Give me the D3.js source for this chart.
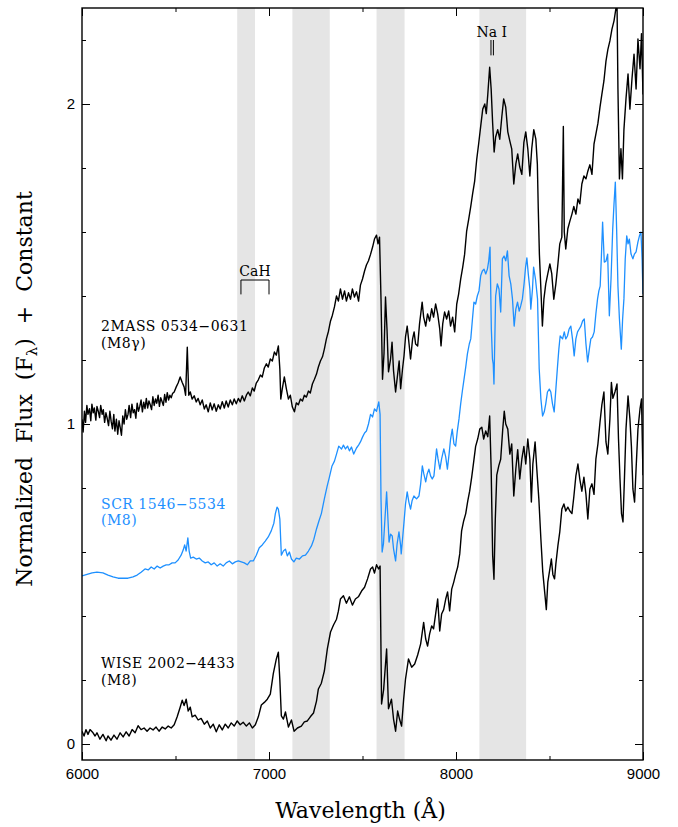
<!DOCTYPE html>
<html>
<head>
<meta charset="utf-8">
<script src="https://cdn.jsdelivr.net/npm/d3@7"></script>
<style>
  body { margin: 0; background: #fff; }
</style>
</head>
<body>
<svg id="chart" width="678" height="827"></svg>
<script>
// Spectra as [wavelength (Å), normalized flux + offset]
const wiseSpectrum = [
  [6000,.040],[6011,.025],[6021,.045],[6032,.030],[6043,.045],[6059,.035],[6070,.025],[6080,.035],[6096,.015],[6112,.030],
  [6129,.010],[6139,.025],[6155,.012],[6171,.028],[6187,.015],[6204,.035],[6220,.022],[6236,.038],[6252,.025],[6268,.045],
  [6284,.035],[6300,.057],[6316,.045],[6332,.050],[6348,.040],[6364,.050],[6380,.044],[6396,.053],[6412,.040],[6429,.053],
  [6445,.047],[6461,.056],[6477,.050],[6493,.060],[6509,.085],[6525,.115],[6536,.137],[6546,.120],[6557,.140],[6568,.103],
  [6579,.115],[6589,.085],[6605,.090],[6621,.075],[6637,.080],[6654,.062],[6670,.072],[6686,.050],[6702,.062],[6718,.038],
  [6734,.060],[6750,.044],[6766,.062],[6782,.050],[6798,.066],[6814,.056],[6830,.072],[6846,.060],[6862,.068],[6879,.056],
  [6895,.066],[6911,.050],[6927,.060],[6943,.085],[6959,.122],[6975,.130],[6991,.140],[7007,.156],[7023,.220],[7039,.265],
  [7050,.287],[7058,.200],[7066,.088],[7077,.078],[7088,.100],[7104,.053],[7120,.075],[7134,.040],[7152,.050],[7173,.056],
  [7189,.069],[7205,.072],[7221,.085],[7238,.097],[7254,.134],[7264,.172],[7280,.190],[7296,.228],[7312,.297],[7329,.350],
  [7345,.372],[7361,.390],[7371,.415],[7382,.453],[7398,.463],[7414,.440],[7430,.460],[7446,.434],[7462,.453],[7478,.460],
  [7495,.478],[7511,.490],[7527,.516],[7543,.547],[7554,.553],[7564,.534],[7575,.560],[7586,.547],[7594,.556],[7602,.125],
  [7613,.170],[7629,.297],[7639,.110],[7655,.140],[7666,.078],[7677,.040],[7688,.103],[7698,.078],[7709,.056],[7720,.140],
  [7730,.203],[7746,.266],[7763,.240],[7779,.250],[7795,.278],[7811,.313],[7827,.380],[7838,.328],[7848,.306],[7859,.344],
  [7870,.369],[7880,.360],[7891,.406],[7902,.453],[7913,.353],[7923,.406],[7934,.420],[7945,.453],[7955,.475],[7966,.416],
  [7977,.484],[7988,.506],[7998,.530],[8009,.553],[8020,.594],[8030,.666],[8041,.697],[8052,.720],[8063,.760],[8073,.790],
  [8084,.834],[8095,.884],[8105,.930],[8116,.953],[8127,.984],[8138,.990],[8148,.953],[8159,.978],[8170,.960],[8180,1.025],
  [8188,.860],[8196,.590],[8203,.515],[8210,.700],[8218,.840],[8229,.870],[8239,.890],[8250,.984],[8258,1.040],[8266,1.000],
  [8277,.984],[8288,.906],[8298,.938],[8309,.775],[8320,.860],[8330,.920],[8341,.828],[8352,.890],[8363,.930],[8373,.875],
  [8384,.953],[8395,.890],[8403,.756],[8411,.875],[8423,.944],[8432,.860],[8443,.766],[8454,.640],[8464,.538],[8475,.470],
  [8483,.420],[8491,.506],[8502,.547],[8510,.578],[8518,.530],[8527,.516],[8534,.563],[8545,.620],[8555,.663],[8566,.734],
  [8577,.750],[8587,.728],[8598,.740],[8609,.728],[8620,.720],[8630,.772],[8641,.838],[8652,.875],[8662,.828],[8673,.790],
  [8684,.834],[8695,.780],[8705,.703],[8716,.797],[8727,.813],[8738,.780],[8748,.890],[8759,.938],[8770,1.006],[8780,1.060],
  [8791,1.100],[8802,.944],[8812,.906],[8823,1.016],[8831,1.130],[8839,1.080],[8850,1.100],[8861,1.125],[8869,.953],[8877,.828],
  [8885,.720],[8893,.694],[8901,.834],[8909,.984],[8920,1.088],[8930,1.016],[8938,.930],[8946,.797],[8955,.756],[8963,.860],
  [8973,.984],[8984,1.047],[8992,1.078],[9000,.840]
];

const scrSpectrum = [
  [6000,.525],[6027,.530],[6054,.535],[6080,.537],[6112,.535],[6139,.528],[6166,.522],[6193,.518],[6220,.518],[6246,.518],
  [6273,.522],[6295,.528],[6316,.537],[6337,.547],[6354,.544],[6370,.553],[6386,.547],[6402,.556],[6418,.550],[6434,.556],
  [6450,.560],[6466,.560],[6482,.566],[6498,.566],[6514,.575],[6530,.590],[6541,.606],[6549,.622],[6557,.603],[6566,.644],
  [6573,.603],[6581,.581],[6595,.584],[6611,.578],[6627,.581],[6643,.572],[6659,.566],[6675,.569],[6691,.560],[6707,.566],
  [6723,.556],[6739,.563],[6755,.556],[6771,.566],[6788,.572],[6804,.563],[6820,.569],[6836,.572],[6852,.569],[6868,.566],
  [6884,.560],[6900,.572],[6916,.572],[6932,.590],[6948,.613],[6964,.622],[6980,.634],[6996,.647],[7012,.666],[7026,.690],
  [7034,.720],[7043,.740],[7050,.734],[7058,.703],[7066,.590],[7077,.603],[7088,.609],[7098,.588],[7109,.600],[7120,.578],
  [7133,.569],[7146,.581],[7163,.578],[7179,.588],[7195,.590],[7211,.603],[7227,.619],[7240,.640],[7254,.672],[7267,.697],
  [7280,.720],[7296,.766],[7311,.806],[7323,.834],[7337,.869],[7350,.884],[7361,.906],[7373,.931],[7388,.922],[7398,.934],
  [7409,.922],[7420,.931],[7430,.916],[7441,.928],[7453,.906],[7468,.925],[7479,.934],[7489,.944],[7500,.959],[7511,.972],
  [7521,.978],[7532,1.000],[7543,1.030],[7554,1.022],[7564,1.047],[7575,1.040],[7587,1.069],[7594,1.030],[7599,.766],[7605,.600],
  [7612,.625],[7620,.703],[7629,.788],[7636,.703],[7642,.631],[7650,.656],[7659,.650],[7666,.610],[7677,.572],[7685,.625],
  [7695,.663],[7704,.620],[7707,.594],[7714,.640],[7722,.694],[7730,.750],[7739,.788],[7748,.756],[7757,.734],[7765,.760],
  [7775,.775],[7789,.766],[7802,.775],[7811,.813],[7820,.869],[7828,.844],[7838,.819],[7846,.844],[7855,.859],[7864,.838],
  [7873,.828],[7882,.838],[7896,.922],[7904,.891],[7914,.859],[7923,.891],[7935,.922],[7945,.897],[7954,.859],[7963,.906],
  [7971,.953],[7980,.984],[7989,.938],[7998,.931],[8007,.978],[8016,1.016],[8025,1.063],[8034,1.103],[8043,1.140],[8052,1.178],
  [8061,1.219],[8071,1.250],[8079,1.266],[8088,1.328],[8096,1.381],[8105,1.375],[8114,1.400],[8123,1.416],[8132,1.463],[8141,1.478],
  [8150,1.484],[8159,1.469],[8168,1.484],[8175,1.510],[8182,1.553],[8189,1.297],[8195,1.203],[8199,1.188],[8203,1.125],[8212,1.400],
  [8221,1.438],[8230,1.422],[8239,1.350],[8248,1.516],[8257,1.525],[8266,1.510],[8275,1.541],[8284,1.463],[8293,1.438],[8302,1.391],
  [8311,1.306],[8320,1.359],[8329,1.381],[8338,1.353],[8346,1.369],[8355,1.391],[8364,1.438],[8372,1.490],[8379,1.519],[8387,1.466],
  [8395,1.422],[8400,1.359],[8409,1.422],[8415,1.490],[8425,1.453],[8436,1.391],[8445,1.172],[8454,1.078],[8463,1.025],[8472,1.038],
  [8480,1.063],[8489,1.100],[8499,1.109],[8507,1.100],[8516,1.063],[8525,1.038],[8534,1.109],[8543,1.181],[8550,1.234],[8557,1.275],
  [8570,1.266],[8579,1.288],[8587,1.266],[8596,1.275],[8605,1.297],[8614,1.306],[8623,1.266],[8632,1.213],[8641,1.266],[8650,1.288],
  [8659,1.297],[8668,1.306],[8677,1.322],[8686,1.328],[8695,1.250],[8704,1.194],[8713,1.234],[8721,1.266],[8730,1.272],[8739,1.288],
  [8748,1.344],[8757,1.391],[8764,1.416],[8771,1.431],[8777,1.516],[8784,1.631],[8793,1.506],[8802,1.509],[8811,1.531],[8820,1.338],
  [8829,1.453],[8838,1.609],[8845,1.688],[8852,1.756],[8859,1.609],[8866,1.431],[8874,1.328],[8884,1.234],[8891,1.328],[8898,1.391],
  [8905,1.516],[8913,1.588],[8920,1.563],[8927,1.578],[8936,1.531],[8946,1.516],[8954,1.531],[8963,1.538],[8973,1.569],[8981,1.588],
  [8989,1.600],[8995,1.516],[9000,1.406]
];

const twomassSpectrum = [
  [6000,1.015],[6006,.975],[6013,1.040],[6019,1.005],[6026,1.058],[6032,1.030],[6040,1.048],[6047,1.010],[6053,1.062],[6060,1.035],
  [6066,1.050],[6074,1.012],[6080,1.055],[6087,1.040],[6094,1.020],[6100,1.058],[6108,1.030],[6114,1.045],[6121,1.005],[6128,1.035],
  [6134,1.020],[6142,.995],[6149,1.040],[6156,1.008],[6163,.985],[6170,1.030],[6176,.978],[6184,1.015],[6191,.968],[6198,1.010],
  [6204,.990],[6211,.965],[6218,1.025],[6225,1.000],[6232,1.045],[6239,1.015],[6246,1.030],[6252,1.058],[6260,1.020],[6267,1.062],
  [6274,1.035],[6281,1.045],[6288,1.018],[6295,1.065],[6302,1.040],[6309,1.055],[6316,1.075],[6323,1.038],[6330,1.068],[6337,1.048],
  [6344,1.080],[6351,1.050],[6358,1.072],[6365,1.060],[6372,1.045],[6379,1.085],[6386,1.058],[6393,1.078],[6400,1.065],[6407,1.090],
  [6414,1.055],[6421,1.082],[6428,1.070],[6435,1.058],[6442,1.092],[6449,1.068],[6456,1.098],[6463,1.075],[6470,1.090],[6477,1.082],
  [6484,1.095],[6493,1.100],[6504,1.116],[6514,1.128],[6525,1.147],[6536,1.130],[6546,1.116],[6554,1.090],[6563,1.240],[6571,1.090],
  [6579,1.100],[6589,1.078],[6600,1.088],[6611,1.069],[6621,1.080],[6632,1.060],[6643,1.075],[6654,1.047],[6664,1.060],[6675,1.038],
  [6686,1.066],[6696,1.044],[6707,1.063],[6718,1.040],[6729,1.060],[6739,1.047],[6750,1.070],[6761,1.050],[6771,1.072],[6782,1.053],
  [6793,1.075],[6804,1.060],[6814,1.078],[6825,1.063],[6836,1.080],[6846,1.069],[6857,1.088],[6868,1.072],[6879,1.090],[6889,1.100],
  [6900,1.088],[6911,1.113],[6921,1.103],[6932,1.128],[6943,1.138],[6954,1.153],[6964,1.147],[6975,1.175],[6986,1.188],[6996,1.178],
  [7007,1.203],[7018,1.197],[7029,1.225],[7039,1.215],[7050,1.244],[7058,1.172],[7063,1.078],[7071,1.110],[7082,1.147],[7093,1.110],
  [7104,1.078],[7114,1.090],[7125,1.053],[7136,1.038],[7146,1.066],[7157,1.060],[7168,1.078],[7179,1.072],[7189,1.090],[7200,1.084],
  [7211,1.103],[7221,1.097],[7232,1.125],[7243,1.140],[7254,1.156],[7264,1.178],[7275,1.197],[7286,1.210],[7296,1.234],[7307,1.266],
  [7318,1.290],[7329,1.322],[7339,1.340],[7350,1.366],[7361,1.400],[7371,1.384],[7382,1.422],[7393,1.390],[7404,1.416],[7414,1.384],
  [7425,1.410],[7436,1.390],[7446,1.422],[7457,1.397],[7468,1.413],[7479,1.384],[7489,1.434],[7500,1.453],[7511,1.478],[7521,1.497],
  [7532,1.510],[7543,1.530],[7554,1.553],[7564,1.578],[7575,1.590],[7583,1.563],[7591,1.584],[7599,1.390],[7607,1.140],[7615,1.220],
  [7623,1.397],[7631,1.297],[7639,1.163],[7650,1.203],[7658,1.256],[7666,1.166],[7677,1.100],[7688,1.156],[7696,1.197],[7704,1.110],
  [7714,1.172],[7722,1.213],[7730,1.272],[7739,1.306],[7749,1.250],[7757,1.203],[7768,1.266],[7776,1.288],[7784,1.250],[7795,1.244],
  [7805,1.313],[7819,1.381],[7827,1.334],[7838,1.306],[7848,1.344],[7859,1.322],[7870,1.360],[7880,1.334],[7891,1.375],[7902,1.344],
  [7913,1.297],[7920,1.244],[7929,1.313],[7939,1.350],[7950,1.328],[7961,1.353],[7971,1.306],[7982,1.334],[7993,1.288],[8004,1.375],
  [8014,1.406],[8025,1.453],[8036,1.490],[8046,1.530],[8057,1.603],[8068,1.640],[8079,1.680],[8089,1.720],[8100,1.760],[8111,1.828],
  [8121,1.875],[8132,1.930],[8143,1.984],[8154,2.000],[8162,1.970],[8170,2.030],[8180,2.115],[8188,2.047],[8196,1.940],[8204,1.850],
  [8212,1.897],[8223,1.920],[8234,1.890],[8245,1.960],[8255,2.016],[8266,1.990],[8277,1.913],[8288,1.884],[8298,1.860],[8309,1.750],
  [8320,1.813],[8330,1.844],[8341,1.803],[8352,1.780],[8363,1.880],[8373,1.913],[8384,1.860],[8395,1.775],[8405,1.860],[8416,1.920],
  [8427,1.890],[8435,1.813],[8440,1.672],[8446,1.530],[8454,1.422],[8462,1.306],[8470,1.390],[8480,1.438],[8491,1.470],[8502,1.500],
  [8512,1.470],[8523,1.390],[8534,1.438],[8545,1.500],[8555,1.563],[8566,1.584],[8574,1.930],[8579,1.600],[8587,1.547],[8598,1.610],
  [8609,1.634],[8620,1.656],[8630,1.680],[8641,1.656],[8652,1.703],[8662,1.688],[8673,1.750],[8684,1.775],[8695,1.766],[8705,1.790],
  [8716,1.810],[8727,1.780],[8738,1.875],[8748,1.906],[8759,1.940],[8770,1.990],[8780,2.030],[8791,2.072],[8802,2.134],[8812,2.170],
  [8823,2.197],[8834,2.234],[8845,2.260],[8853,2.290],[8861,2.320],[8866,2.047],[8874,1.766],[8882,1.860],[8890,1.766],[8898,1.920],
  [8909,2.016],[8920,2.094],[8930,1.984],[8941,2.078],[8952,2.156],[8963,2.047],[8973,2.203],[8984,2.110],[8992,2.220],[9000,2.030]
];

// Shaded feature windows (Å)
const bandStarts = [6830, 7125, 7575, 8125];
const bandEnds   = [6925, 7325, 7725, 8375];

// Axis ticks
const xMajorTicks = [6000, 7000, 8000, 9000];
const xMinorTicks = [6500, 7500, 8500];
const yMajorTicks = [0, 1, 2];
const yMinorTicks = [0.2, 0.4, 0.6, 0.8, 1.2, 1.4, 1.6, 1.8, 2.2];

// Object names and spectral types
const objectNames = ["2MASS 0534\u22120631", "SCR 1546\u22125534", "WISE 2002\u22124433"];
const objectTypes = ["(M8\u03B3)", "(M8)", "(M8)"];
const objectColors = ["#000000", "#1e90ff", "#000000"];
const objectLabelFlux = [1.29, 0.735, 0.237];

// Line identifications
const cahRange = [6850, 7000];
const naDoublet = [8187, 8200];

const plotLeft = 82, plotRight = 643, plotTop = 8, plotBottom = 760;

const svg = d3.select("#chart");
const x = d3.scaleLinear().domain([6000, 9000]).range([plotLeft, plotRight]);
const y = d3.scaleLinear().domain([-0.05, 2.30]).range([plotBottom, plotTop]);

svg.append("defs").append("clipPath").attr("id", "plotClip")
  .append("rect").attr("x", plotLeft).attr("y", plotTop)
  .attr("width", plotRight - plotLeft).attr("height", plotBottom - plotTop);

// shaded windows
svg.append("g").selectAll("rect")
  .data(d3.range(bandStarts.length))
  .join("rect")
  .attr("x", i => x(bandStarts[i]))
  .attr("width", i => x(bandEnds[i]) - x(bandStarts[i]))
  .attr("y", plotTop).attr("height", plotBottom - plotTop)
  .attr("fill", "#e5e5e5");

// spectra
const line = d3.line().x(d => x(d[0])).y(d => y(d[1]));
const plot = svg.append("g").attr("clip-path", "url(#plotClip)");
[[wiseSpectrum, "#000", 1.4], [scrSpectrum, "#1e90ff", 1.3], [twomassSpectrum, "#000", 1.4]]
  .forEach(([data, color, w]) => {
    plot.append("path").datum(data)
      .attr("d", line)
      .attr("fill", "none")
      .attr("stroke", color)
      .attr("stroke-width", w)
      .attr("stroke-linejoin", "round");
  });

// object labels (name, then spectral type underneath)
const serif = "'DejaVu Serif', serif";
objectNames.forEach((name, i) => {
  const t = svg.append("text")
    .attr("x", x(6102))
    .attr("y", y(objectLabelFlux[i]))
    .attr("font-family", serif)
    .attr("font-size", 14)
    .style("letter-spacing", "0.5px")
    .attr("fill", objectColors[i]);
  t.append("tspan").attr("x", x(6102)).text(name);
  t.append("tspan").attr("x", x(6102)).attr("dy", 16.5).text(objectTypes[i]);
});

// CaH bracket
const cahTop = y(1.45), cahLeg = y(1.405);
svg.append("path")
  .attr("d", `M${x(cahRange[0])},${cahLeg}V${cahTop}H${x(cahRange[1])}V${cahLeg}`)
  .attr("fill", "none").attr("stroke", "#000").attr("stroke-width", 1);
svg.append("text")
  .attr("x", (x(cahRange[0]) + x(cahRange[1])) / 2)
  .attr("y", cahTop - 4)
  .attr("text-anchor", "middle")
  .attr("font-family", serif).attr("font-size", 14)
  .text("CaH");

// Na I doublet markers
naDoublet.forEach(l => {
  svg.append("line")
    .attr("x1", x(l)).attr("x2", x(l))
    .attr("y1", y(2.2)).attr("y2", y(2.152))
    .attr("stroke", "#000").attr("stroke-width", 1);
});
svg.append("text")
  .attr("x", x(8195) - 16)
  .attr("y", y(2.2) - 3)
  .attr("font-family", serif).attr("font-size", 14)
  .text("Na I");

// axes: ticks point inward on all four sides
function styleAxis(g) {
  g.select(".domain").remove();
  g.selectAll(".tick line").attr("stroke", "#000").attr("stroke-width", 1);
  g.selectAll(".tick text")
    .attr("font-family", "'Liberation Sans', Arial, sans-serif")
    .attr("font-size", 15).attr("fill", "#000");
}
svg.append("g").attr("transform", `translate(0,${plotBottom})`)
  .call(d3.axisBottom(x).tickValues(xMajorTicks).tickSize(-8).tickPadding(8).tickFormat(d3.format("d")))
  .call(styleAxis);
svg.append("g").attr("transform", `translate(0,${plotBottom})`)
  .call(d3.axisBottom(x).tickValues(xMinorTicks).tickSize(-4).tickFormat(""))
  .call(styleAxis);
svg.append("g").attr("transform", `translate(0,${plotTop})`)
  .call(d3.axisTop(x).tickValues(xMajorTicks).tickSize(-8).tickFormat(""))
  .call(styleAxis);
svg.append("g").attr("transform", `translate(0,${plotTop})`)
  .call(d3.axisTop(x).tickValues(xMinorTicks).tickSize(-4).tickFormat(""))
  .call(styleAxis);
svg.append("g").attr("transform", `translate(${plotLeft},0)`)
  .call(d3.axisLeft(y).tickValues(yMajorTicks).tickSize(-8).tickPadding(7).tickFormat(d3.format("d")))
  .call(styleAxis);
svg.append("g").attr("transform", `translate(${plotLeft},0)`)
  .call(d3.axisLeft(y).tickValues(yMinorTicks).tickSize(-4).tickFormat(""))
  .call(styleAxis);
svg.append("g").attr("transform", `translate(${plotRight},0)`)
  .call(d3.axisRight(y).tickValues(yMajorTicks).tickSize(-8).tickFormat(""))
  .call(styleAxis);
svg.append("g").attr("transform", `translate(${plotRight},0)`)
  .call(d3.axisRight(y).tickValues(yMinorTicks).tickSize(-4).tickFormat(""))
  .call(styleAxis);

// frame
svg.append("rect")
  .attr("x", plotLeft).attr("y", plotTop)
  .attr("width", plotRight - plotLeft).attr("height", plotBottom - plotTop)
  .attr("fill", "none").attr("stroke", "#000").attr("stroke-width", 1.4);

// axis titles
svg.append("text")
  .attr("x", (plotLeft + plotRight) / 2 - 2)
  .attr("y", 818)
  .attr("text-anchor", "middle")
  .attr("font-family", serif).attr("font-size", 22)
  .text("Wavelength (\u00C5)");

const yTitle = svg.append("text")
  .attr("transform", `translate(32,389) rotate(-90)`)
  .attr("text-anchor", "middle")
  .attr("font-family", serif).attr("font-size", 22)
  .style("word-spacing", "7px");
yTitle.append("tspan").text("Normalized Flux (F");
yTitle.append("tspan").attr("dy", 5).attr("font-size", 15).text("\u03BB");
yTitle.append("tspan").attr("dy", -5).text(") + Constant");
</script>
</body>
</html>
